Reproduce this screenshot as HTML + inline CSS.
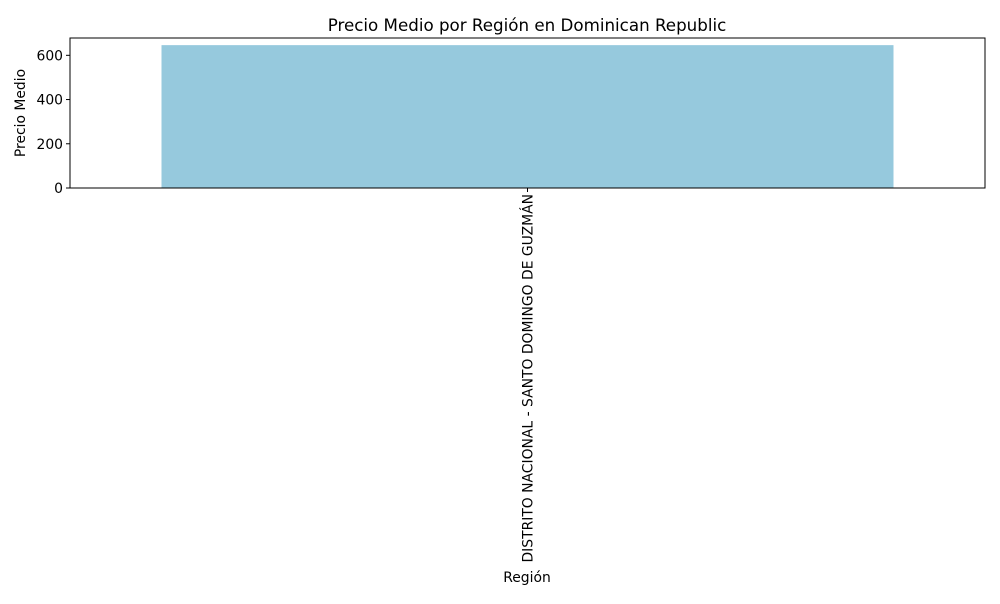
<!DOCTYPE html>
<html><head><meta charset="utf-8"><style>
body{margin:0;background:#fff;font-family:"DejaVu Sans","Liberation Sans",sans-serif;}
</style></head><body>
<svg id="chart" width="1000" height="600" xmlns="http://www.w3.org/2000/svg" font-family="DejaVu Sans, Liberation Sans, sans-serif">
<text x="527" y="31" font-size="16.7" text-anchor="middle">Precio Medio por Región en Dominican Republic</text>
<g id="bars"></g>
<g id="yticks"></g>
<g id="xticks"></g>
<rect x="70" y="38" width="915" height="150" fill="none" stroke="#000" stroke-width="1"/>
<text x="25" y="113" font-size="13.9" text-anchor="middle" transform="rotate(-90 25 113)">Precio Medio</text>
<text x="527" y="582" font-size="13.9" text-anchor="middle">Región</text>
</svg>
<script>
const categories = ["DISTRITO NACIONAL - SANTO DOMINGO DE GUZMÁN"];
const values = [646];
const yTicks = [0, 200, 400, 600];
const NS = "http://www.w3.org/2000/svg";
const L = 70, R = 985, T = 38, B = 188;
const yMax = Math.max(...values) * 1.05;
const y = v => B - v / yMax * (B - T);
const n = categories.length;
const x = i => L + (i + 0.5) / n * (R - L);
const bw = 0.8 / n * (R - L);
const bars = document.getElementById('bars');
const yt = document.getElementById('yticks');
const xt = document.getElementById('xticks');
categories.forEach((c, i) => {
  const r = document.createElementNS(NS, 'rect');
  r.setAttribute('x', x(i) - bw / 2);
  r.setAttribute('y', y(values[i]));
  r.setAttribute('width', bw);
  r.setAttribute('height', B - y(values[i]));
  r.setAttribute('fill', '#96c9dd');
  
  
  bars.appendChild(r);
  const tk = document.createElementNS(NS, 'line');
  tk.setAttribute('x1', x(i)); tk.setAttribute('x2', x(i));
  tk.setAttribute('y1', B); tk.setAttribute('y2', B + 4);
  tk.setAttribute('stroke', '#000');
  
  
  xt.appendChild(tk);
  const t = document.createElementNS(NS, 'text');
  t.setAttribute('x', x(i) + 5); t.setAttribute('y', B + 6);
  t.setAttribute('font-size', '13.9');
  t.setAttribute('text-anchor', 'end');
  t.setAttribute('transform', `rotate(-90 ${x(i) + 5} ${B + 6})`);
  t.textContent = c;
  
  
  xt.appendChild(t);
});
yTicks.forEach(v => {
  const tk = document.createElementNS(NS, 'line');
  tk.setAttribute('x1', L - 4); tk.setAttribute('x2', L);
  tk.setAttribute('y1', y(v)); tk.setAttribute('y2', y(v));
  tk.setAttribute('stroke', '#000');
  
  
  yt.appendChild(tk);
  const t = document.createElementNS(NS, 'text');
  t.setAttribute('x', L - 7); t.setAttribute('y', y(v) + 5);
  t.setAttribute('font-size', '13.9');
  t.setAttribute('text-anchor', 'end');
  t.textContent = v;
  
  
  yt.appendChild(t);
});
</script>
</body></html>
